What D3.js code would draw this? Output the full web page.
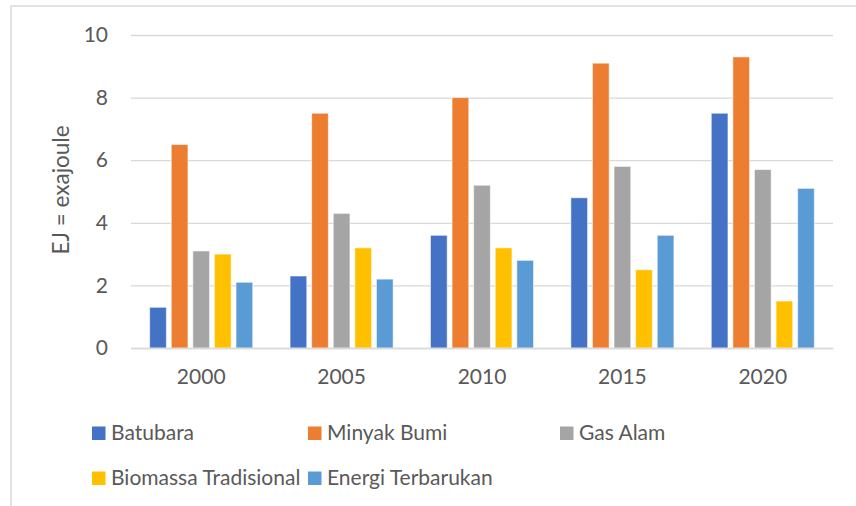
<!DOCTYPE html>
<html lang="en">
<head>
<meta charset="UTF-8"/>
<title>Konsumsi Energi</title>
<script src="https://d3js.org/d3.v7.min.js"></script>
<style>
	body { margin: 0; background: #fff; }
	svg text { font-family: "Lato", "Open Sans", sans-serif; fill: #595959; }
</style>
</head>
<body>
<script>
	var w = 856;
	var h = 506;

	// data
	var years = ["2000", "2005", "2010", "2015", "2020"];
	var seriesNames = ["Batubara", "Minyak Bumi", "Gas Alam", "Biomassa Tradisional", "Energi Terbarukan"];
	var batubara = [1.3, 2.3, 3.6, 4.8, 7.5];
	var minyakBumi = [6.5, 7.5, 8.0, 9.1, 9.3];
	var gasAlam = [3.1, 4.3, 5.2, 5.8, 5.7];
	var biomassa = [3.0, 3.2, 3.2, 2.5, 1.5];
	var terbarukan = [2.1, 2.2, 2.8, 3.6, 5.1];
	var yTicks = [0, 2, 4, 6, 8, 10];
	var colors = ["#4472C4", "#ED7D31", "#A5A5A5", "#FFC000", "#5B9BD5"];

	var seriesValues = [batubara, minyakBumi, gasAlam, biomassa, terbarukan];

	// flatten into one row per bar
	var rows = [];
	years.forEach(function(y, i) {
		seriesNames.forEach(function(s, j) {
			rows.push({year: y, series: s, value: seriesValues[j][i]});
		});
	});

	var plotLeft = 131, plotRight = 833, plotTop = 35, plotBottom = 348;

	var x0 = d3.scaleBand()
		.domain(years)
		.range([plotLeft, plotRight])
		.paddingInner(0.266)
		.paddingOuter(0.133);

	var x1 = d3.scaleBand()
		.domain(seriesNames)
		.range([0, x0.bandwidth()])
		.paddingInner(0.227);

	var yScale = d3.scaleLinear()
		.domain([0, 10])
		.range([plotBottom, plotTop]);

	var color = d3.scaleOrdinal()
		.domain(seriesNames)
		.range(colors);

	var svg = d3.select("body")
		.append("svg")
		.attr("width", w)
		.attr("height", h);

	// chart frame (runs past the right and bottom edge)
	svg.append("rect")
		.attr("x", 11)
		.attr("y", 6)
		.attr("width", 900)
		.attr("height", 600)
		.attr("fill", "none")
		.attr("stroke", "#D9D9D9")
		.attr("stroke-width", 1.5);

	// gridlines + y labels
	var yAxis = d3.axisLeft(yScale)
		.tickValues(yTicks)
		.tickSize(-(plotRight - plotLeft))
		.tickPadding(23);

	var gy = svg.append("g")
		.attr("transform", "translate(" + plotLeft + ",0)")
		.call(yAxis);
	gy.select(".domain").remove();
	gy.selectAll(".tick line")
		.attr("stroke", "#D9D9D9")
		.attr("stroke-width", 1.3);
	gy.selectAll(".tick text")
		.attr("font-size", "21px")
		.attr("font-family", null)
		.attr("fill", "#595959");

	// bars
	svg.append("g")
		.selectAll("rect")
		.data(rows)
		.enter()
		.append("rect")
		.attr("x", function(d) { return x0(d.year) + x1(d.series); })
		.attr("y", function(d) { return yScale(d.value); })
		.attr("width", x1.bandwidth())
		.attr("height", function(d) { return plotBottom - yScale(d.value); })
		.attr("fill", function(d) { return color(d.series); })
		.attr("stroke", "rgba(255,255,255,0.55)")
		.attr("stroke-width", 1);

	// x axis
	var xAxis = d3.axisBottom(x0)
		.tickSize(0)
		.tickPadding(21);

	var gx = svg.append("g")
		.attr("transform", "translate(0," + plotBottom + ")")
		.call(xAxis);
	gx.select(".domain")
		.attr("stroke", "#D9D9D9")
		.attr("stroke-width", 1.3);
	gx.selectAll(".tick text")
		.attr("font-size", "21px")
		.attr("font-family", null)
		.attr("fill", "#595959");

	// y title
	svg.append("text")
		.attr("transform", "translate(69,190) rotate(-90)")
		.attr("text-anchor", "middle")
		.attr("font-size", "22.5px")
		.text("EJ = exajoule");

	// legend
	var legendCols = [92, 308, 560];
	var legendRows = [440, 485];
	var legend = svg.append("g")
		.selectAll("g")
		.data(seriesNames)
		.enter()
		.append("g")
		.attr("transform", function(d, i) {
			return "translate(" + legendCols[i % 3] + "," + legendRows[Math.floor(i / 3)] + ")";
		});
	legend.append("rect")
		.attr("x", 0)
		.attr("y", -13.5)
		.attr("width", 13.5)
		.attr("height", 13.5)
		.attr("fill", function(d) { return color(d); });
	legend.append("text")
		.attr("x", 19)
		.attr("y", 0)
		.attr("font-size", "21px")
		.text(function(d) { return d; });
</script>
</body>
</html>
